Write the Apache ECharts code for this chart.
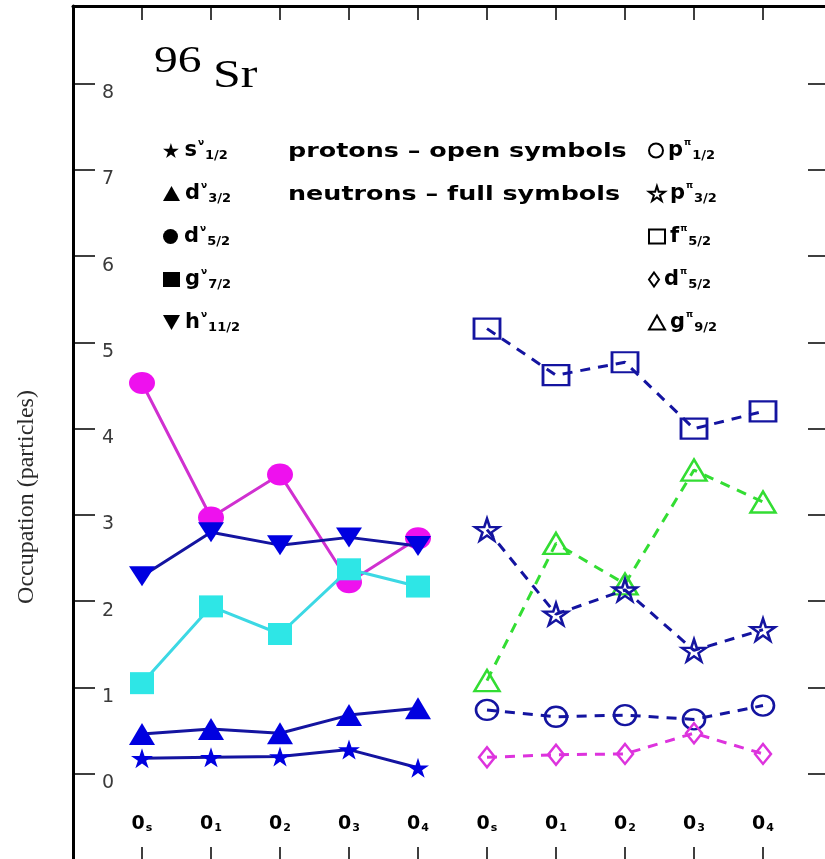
<!DOCTYPE html>
<html>
<head>
<meta charset="utf-8">
<script src="https://cdn.jsdelivr.net/npm/echarts@6/dist/echarts.min.js"></script>
<style>
  html, body { margin: 0; padding: 0; background: #fff; }
  #chart { width: 825px; height: 859px; }
</style>
</head>
<body>
<div id="chart"></div>
<script>
// Configuration subscripts under each column (neutron block, then proton block)
const stateSubs = ['s', '1', '2', '3', '4', 's', '1', '2', '3', '4'];
const neutronX = [1, 2, 3, 4, 5];
const protonX = [6, 7, 8, 9, 10];
const yTicks = [0, 1, 2, 3, 4, 5, 6, 7, 8];

// Neutron orbit occupations (full symbols)
const nS12 = [0.18, 0.19, 0.20, 0.28, 0.07];
const nD32 = [0.46, 0.52, 0.47, 0.68, 0.76];
const nD52 = [4.53, 2.97, 3.47, 2.22, 2.73];
const nG72 = [1.05, 1.94, 1.62, 2.37, 2.17];
const nH112 = [2.29, 2.80, 2.65, 2.74, 2.64];

// Proton orbit occupations (open symbols)
const pP12 = [0.74, 0.66, 0.68, 0.63, 0.79];
const pP32 = [2.83, 1.85, 2.13, 1.43, 1.67];
const pF52 = [5.16, 4.62, 4.77, 4.00, 4.20];
const pD52 = [0.19, 0.22, 0.23, 0.47, 0.23];
const pG92 = [1.08, 2.67, 2.20, 3.52, 3.15];

// Orbit labels: [letter, j]
const nLabels = [['s', '1/2'], ['d', '3/2'], ['d', '5/2'], ['g', '7/2'], ['h', '11/2']];
const pLabels = [['p', '1/2'], ['p', '3/2'], ['f', '5/2'], ['d', '5/2'], ['g', '9/2']];

const STAR = 'path://M50,0 L61,35 L98,35 L68,57 L79,91 L50,70 L21,91 L32,57 L2,35 L39,35 Z';
const DOWN_TRI = 'path://M0,0 L100,0 L50,87 Z';

const NAVY = '#1414a0';
const BLUE = '#0000e0';
const MAGENTA = '#ee11ee';
const CYAN = '#2ee6e6';
const GREEN = '#33dd33';

const zip = (xs, ys) => xs.map((x, i) => [x, ys[i]]);
const nName = l => l[0] + 'ν' + l[1];
const pName = l => l[0] + 'π' + l[1];

const richLabel = {};
nLabels.forEach(l => { richLabel[nName(l)] = '{l|' + l[0] + '}{sup|ν}{sub|' + l[1] + '}'; });
pLabels.forEach(l => { richLabel[pName(l)] = '{l|' + l[0] + '}{sup|π}{sub|' + l[1] + '}'; });

function neutronSeries(label, ys, symbol, size, fill, line, z) {
  return {
    name: nName(label), type: 'line', data: zip(neutronX, ys), z: z,
    symbol: symbol, symbolSize: size,
    itemStyle: { color: fill },
    lineStyle: { color: line, width: 3 },
    emphasis: { disabled: true }
  };
}
function protonSeries(label, ys, symbol, size, color, z) {
  return {
    name: pName(label), type: 'line', data: zip(protonX, ys), z: z,
    symbol: symbol, symbolSize: size,
    itemStyle: { color: 'rgba(0,0,0,0)', borderColor: color, borderWidth: 2.5 },
    lineStyle: { color: color, width: 3, type: [10, 8] },
    emphasis: { disabled: true }
  };
}

const series = [
  neutronSeries(nLabels[2], nD52, 'circle', [26, 22], MAGENTA, '#d030d0', 2),
  neutronSeries(nLabels[3], nG72, 'rect', [24, 22], CYAN, '#3cd8e4', 3),
  neutronSeries(nLabels[4], nH112, DOWN_TRI, [26, 20], BLUE, NAVY, 4),
  neutronSeries(nLabels[1], nD32, 'triangle', [26, 22], BLUE, NAVY, 5),
  neutronSeries(nLabels[0], nS12, STAR, [22, 20], BLUE, NAVY, 6),
  protonSeries(pLabels[4], pG92, 'triangle', [25, 21], GREEN, 2),
  protonSeries(pLabels[0], pP12, 'circle', [22, 20], NAVY, 3),
  protonSeries(pLabels[2], pF52, 'rect', [26, 20], NAVY, 4),
  protonSeries(pLabels[3], pD52, 'diamond', [16, 20], '#dd33dd', 5),
  protonSeries(pLabels[1], pP32, STAR, [24, 22], NAVY, 6)
];

// Legend: one component per row, black filled icons for neutrons, open ones for protons
const rowY = [150, 193, 236, 279, 322];
const legendText = {
  color: '#000',
  rich: {
    l: { fontSize: 21, fontWeight: 'bold', fontFamily: 'DejaVu Sans', color: '#000' },
    sup: { fontSize: 9, fontWeight: 'bold', fontFamily: 'DejaVu Sans', color: '#000', padding: [0, 1, 16, 1] },
    sub: { fontSize: 13, fontWeight: 'bold', fontFamily: 'DejaVu Sans', color: '#000', padding: [10, 0, 0, 0] }
  }
};
const nIcons = [STAR, 'triangle', 'circle', 'rect', DOWN_TRI];
const pIcons = ['circle', STAR, 'rect', 'diamond', 'triangle'];
const pIconSize = [[14, 14], [16, 15], [16, 14], [10, 14], [16, 14]];
const legends = [];
nLabels.forEach((l, i) => {
  legends.push({
    left: 163, top: rowY[i] - 12, padding: 0, selectedMode: false,
    itemWidth: 17, itemHeight: 15,
    formatter: n => richLabel[n], textStyle: legendText,
    data: [{ name: nName(l), icon: nIcons[i], itemStyle: { color: '#000', borderWidth: 0 } }]
  });
});
pLabels.forEach((l, i) => {
  legends.push({
    left: 648, top: rowY[i] - 12, padding: 0, selectedMode: false,
    itemWidth: pIconSize[i][0], itemHeight: pIconSize[i][1],
    formatter: n => richLabel[n], textStyle: legendText,
    data: [{ name: pName(l), icon: pIcons[i], itemStyle: { color: '#fff', borderColor: '#000', borderWidth: 2 } }]
  });
});

const chart = echarts.init(document.getElementById('chart'), null, { renderer: 'canvas' });

chart.setOption({
  animation: false,
  backgroundColor: '#fff',
  grid: { left: 73, top: 6, width: 759, height: 854, outerBoundsMode: 'none', containLabel: false },
  legend: legends,
  xAxis: [
    {
      type: 'value', position: 'bottom', min: 0, max: 11, interval: 1,
      splitLine: { show: false },
      axisLine: { show: true, onZero: false, lineStyle: { color: '#000', width: 3 } },
      axisTick: { show: true, inside: true, length: 13, customValues: neutronX.concat(protonX), lineStyle: { color: '#000', width: 1.5 } },
      axisLabel: {
        show: true, inside: true, margin: 26,
        customValues: neutronX.concat(protonX),
        formatter: v => '{o|0}{s|' + stateSubs[v - 1] + '}',
        rich: {
          o: { fontSize: 19, fontWeight: 'bold', fontFamily: 'DejaVu Sans', color: '#000' },
          s: { fontSize: 11, fontWeight: 'bold', fontFamily: 'DejaVu Sans', color: '#000', padding: [9, 0, 0, 1] }
        }
      }
    },
    {
      type: 'value', position: 'top', min: 0, max: 11, interval: 1,
      splitLine: { show: false },
      axisLine: { show: true, onZero: false, lineStyle: { color: '#000', width: 3 } },
      axisTick: { show: true, inside: true, length: 14, customValues: neutronX.concat(protonX), lineStyle: { color: '#000', width: 1.5 } },
      axisLabel: { show: false }
    }
  ],
  yAxis: [
    {
      type: 'value', position: 'left', min: -1, max: 8.9, interval: 1,
      splitLine: { show: false },
      axisLine: { show: true, onZero: false, lineStyle: { color: '#000', width: 3 } },
      axisTick: { show: true, inside: true, length: 22, customValues: yTicks, lineStyle: { color: '#000', width: 1.5 } },
      axisLabel: {
        show: true, inside: true, margin: 29, customValues: yTicks,
        color: '#3a3a3a', fontSize: 19, fontFamily: 'DejaVu Sans', fontWeight: 'normal',
        verticalAlign: 'top'
      }
    },
    {
      type: 'value', position: 'right', min: -1, max: 8.9, interval: 1,
      splitLine: { show: false },
      axisLine: { show: true, onZero: false, lineStyle: { color: '#000', width: 3 } },
      axisTick: { show: true, inside: true, length: 24, customValues: yTicks, lineStyle: { color: '#000', width: 1.5 } },
      axisLabel: { show: false }
    }
  ],
  graphic: [
    { type: 'text', x: 154, y: 43, scaleX: 1.25, style: { text: '96', font: '38px "Liberation Serif"', fill: '#000', verticalAlign: 'top' } },
    { type: 'text', x: 213, y: 56, scaleX: 1.25, style: { text: 'Sr', font: '40px "Liberation Serif"', fill: '#000', verticalAlign: 'top' } },
    { type: 'text', x: 288, y: 152, scaleX: 1.27, style: { text: 'protons – open symbols', font: 'bold 20px "DejaVu Sans"', fill: '#000', verticalAlign: 'middle' } },
    { type: 'text', x: 288, y: 195, scaleX: 1.27, style: { text: 'neutrons – full symbols', font: 'bold 20px "DejaVu Sans"', fill: '#000', verticalAlign: 'middle' } },
    { type: 'text', x: 27, y: 497, rotation: Math.PI / 2, style: { text: 'Occupation (particles)', font: '24px "Liberation Serif"', fill: '#2a2a2a', align: 'center', verticalAlign: 'middle' } }
  ],
  series: series
});
</script>
</body>
</html>
